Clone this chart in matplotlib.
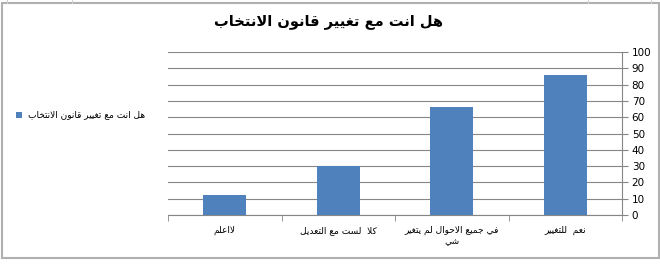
import numpy as np
import matplotlib
matplotlib.use('Agg')
import matplotlib.pyplot as plt
from matplotlib.patches import Rectangle

# data (left to right, as in the picture)
title = "هل انت مع تغيير قانون الانتخاب"
series_name = "هل انت مع تغيير قانون الانتخاب"
categories = ["لااعلم", "كلا  لست مع التعديل", "في جميع الاحوال لم يتغير\nشي", "نعم  للتغيير"]
values = [12, 30, 66, 86]
y_ticks = [0, 10, 20, 30, 40, 50, 60, 70, 80, 90, 100]

# ---- minimal arabic shaping (matplotlib has no text layout for arabic) ----
# letter : (isolated, final, initial, medial); None = does not join to next
FORMS = {
    'ا': (0xFE8D, 0xFE8E, None, None), 'د': (0xFEA9, 0xFEAA, None, None),
    'ر': (0xFEAD, 0xFEAE, None, None), 'و': (0xFEED, 0xFEEE, None, None),
    'ب': (0xFE8F, 0xFE90, 0xFE91, 0xFE92), 'ت': (0xFE95, 0xFE96, 0xFE97, 0xFE98),
    'ج': (0xFE9D, 0xFE9E, 0xFE9F, 0xFEA0), 'ح': (0xFEA1, 0xFEA2, 0xFEA3, 0xFEA4),
    'خ': (0xFEA5, 0xFEA6, 0xFEA7, 0xFEA8), 'س': (0xFEB1, 0xFEB2, 0xFEB3, 0xFEB4),
    'ش': (0xFEB5, 0xFEB6, 0xFEB7, 0xFEB8), 'ع': (0xFEC9, 0xFECA, 0xFECB, 0xFECC),
    'غ': (0xFECD, 0xFECE, 0xFECF, 0xFED0), 'ف': (0xFED1, 0xFED2, 0xFED3, 0xFED4),
    'ق': (0xFED5, 0xFED6, 0xFED7, 0xFED8), 'ك': (0xFED9, 0xFEDA, 0xFEDB, 0xFEDC),
    'ل': (0xFEDD, 0xFEDE, 0xFEDF, 0xFEE0), 'م': (0xFEE1, 0xFEE2, 0xFEE3, 0xFEE4),
    'ن': (0xFEE5, 0xFEE6, 0xFEE7, 0xFEE8), 'ه': (0xFEE9, 0xFEEA, 0xFEEB, 0xFEEC),
    'ي': (0xFEF1, 0xFEF2, 0xFEF3, 0xFEF4),
    'ﻻ': (0xFEFB, 0xFEFC, None, None),
}

def shape_line(s):
    s = s.replace('لا', 'ﻻ')
    out = []
    for i, c in enumerate(s):
        if c not in FORMS:
            out.append(c)
            continue
        prev = s[i - 1] if i > 0 else ''
        nxt = s[i + 1] if i + 1 < len(s) else ''
        joins_prev = prev in FORMS and FORMS[prev][2] is not None
        joins_next = FORMS[c][2] is not None and nxt in FORMS
        iso, fin, ini, med = FORMS[c]
        if joins_prev and joins_next:
            code = med
        elif joins_prev:
            code = fin
        elif joins_next:
            code = ini
        else:
            code = iso
        out.append(chr(code))
    return ''.join(out)[::-1]

def ar(s):
    return '\n'.join(shape_line(l) for l in s.split('\n'))

plt.rcParams['font.family'] = ['DejaVu Sans']

fig = plt.figure(figsize=(6.6, 2.64), dpi=100)
ax = fig.add_axes([168/660, 49/264, 454/660, 163/264])

x = np.arange(len(categories))
ax.bar(x, values, width=0.38, color='#4F81BD', zorder=3)

ax.set_xlim(-0.5, len(categories) - 0.5)
ax.set_ylim(0, 100)
ax.set_yticks(y_ticks)
ax.yaxis.tick_right()
ax.tick_params(axis='y', direction='out', length=4, color='#868686', labelsize=7.5, pad=3)
ax.grid(axis='y', color='#868686', linewidth=0.8, zorder=0)

ax.set_xticks(x)
ax.set_xticklabels([ar(c) for c in categories], fontsize=6.5, linespacing=1.3)
ax.set_xticks(np.arange(-0.5, len(categories)), minor=True)
ax.tick_params(axis='x', which='major', length=0, pad=8)
ax.tick_params(axis='x', which='minor', direction='out', length=4, color='#868686')

for side in ['top', 'left']:
    ax.spines[side].set_visible(False)
for side in ['right', 'bottom']:
    ax.spines[side].set_color('#868686')

fig.text(0.498, 0.917, ar(title), ha='center', va='center', fontsize=10.5, fontweight='bold')

# legend at the left
fig.patches.append(Rectangle((16/660, 146/264), 6/660, 6/264, transform=fig.transFigure,
                             facecolor='#4F81BD', edgecolor='none'))
fig.text(28/660, 149/264, ar(series_name), ha='left', va='center', fontsize=6.5)

# chart frame and the sheet cell lines above it
fig.patches.append(Rectangle((2/660, 6/264), 657/660, 255/264, transform=fig.transFigure,
                             fill=False, edgecolor='#b0b0b0', linewidth=1.5))
for cx in [7, 72, 588, 651]:
    fig.add_artist(plt.Line2D([cx/660, cx/660], [261/264, 1], transform=fig.transFigure,
                              color='#d0d0d0', linewidth=0.8))

fig.savefig('out.png', dpi=100)
